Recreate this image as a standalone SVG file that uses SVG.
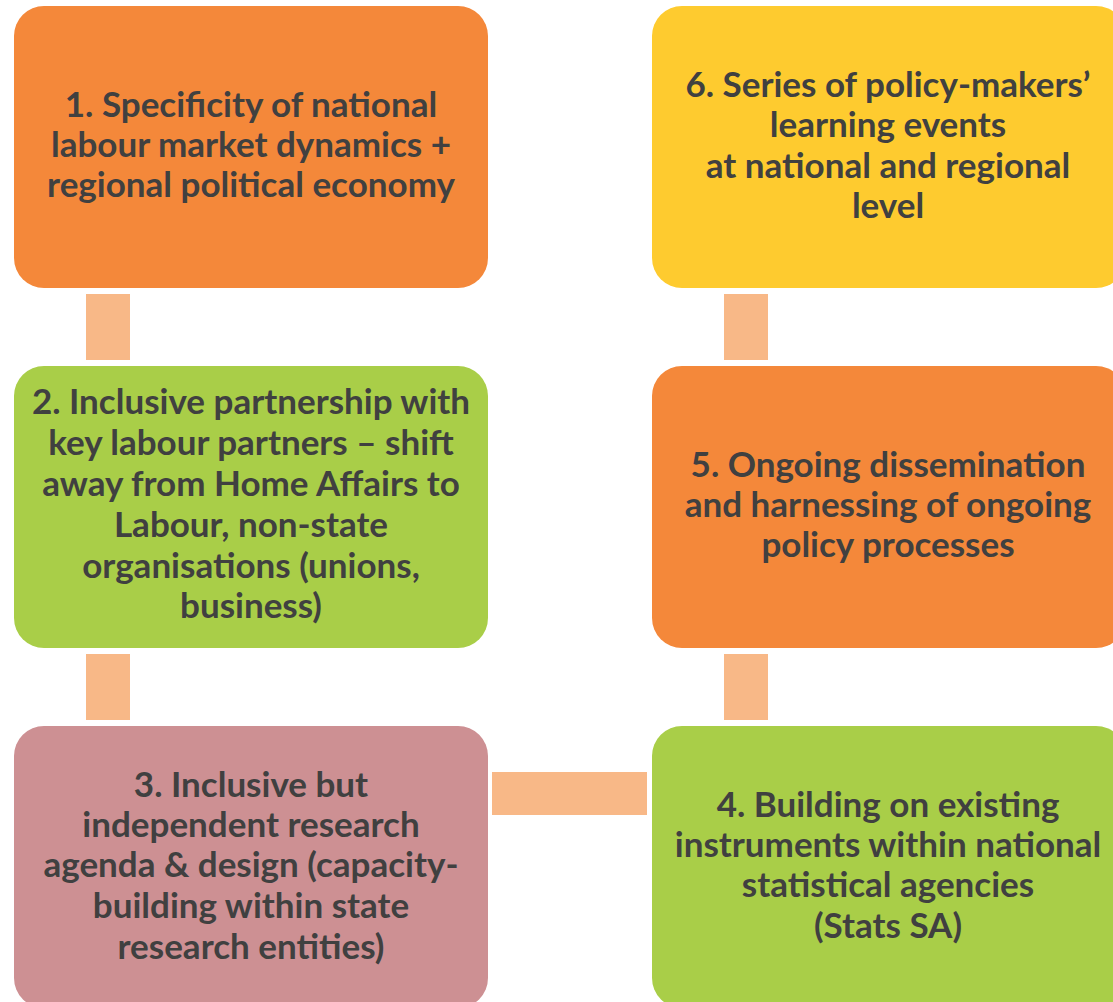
<svg xmlns="http://www.w3.org/2000/svg" width="1113" height="1002" viewBox="0 0 1113 1002">
<style>
.box{stroke:none}
.orange{fill:#F4883A}
.yellow{fill:#FECB2F}
.green{fill:#A9CE48}
.pink{fill:#CD9093}
.conn{fill:#F8B887}
text{font-family:Lato,"Liberation Sans",sans-serif;font-weight:bold;font-size:35px;fill:#404040;text-anchor:middle}
</style>
<rect width="1113" height="1002" fill="#FFFFFF"/>
<g id="connectors">
<rect class="conn" x="86" y="294" width="44" height="66"/>
<rect class="conn" x="86" y="654" width="44" height="66"/>
<rect class="conn" x="724" y="294" width="44" height="66"/>
<rect class="conn" x="724" y="654" width="44" height="66"/>
<rect class="conn" x="492" y="772" width="155" height="43"/>
</g>
<g id="node1">
<rect class="box orange" x="14" y="6" width="474" height="282" rx="30"/>
<text x="251" y="117">1. Specificity of national</text>
<text x="251" y="157">labour market dynamics +</text>
<text x="251" y="197">regional political economy</text>
</g>
<g id="node6">
<rect class="box yellow" x="652" y="6" width="474" height="282" rx="30"/>
<text x="888" y="97">6. Series of policy-makers’</text>
<text x="888" y="137">learning events</text>
<text x="888" y="178">at national and regional</text>
<text x="888" y="218">level</text>
</g>
<g id="node2">
<rect class="box green" x="14" y="366" width="474" height="282" rx="30"/>
<text x="251" y="414">2. Inclusive partnership with</text>
<text x="251" y="455">key labour partners – shift</text>
<text x="251" y="496">away from Home Affairs to</text>
<text x="251" y="537">Labour, non-state</text>
<text x="251" y="578">organisations (unions,</text>
<text x="251" y="618">business)</text>
</g>
<g id="node5">
<rect class="box orange" x="652" y="366" width="474" height="282" rx="30"/>
<text x="888" y="477">5. Ongoing dissemination</text>
<text x="888" y="517">and harnessing of ongoing</text>
<text x="888" y="557">policy processes</text>
</g>
<g id="node3">
<rect class="box pink" x="14" y="726" width="474" height="282" rx="30"/>
<text x="251" y="797">3. Inclusive but</text>
<text x="251" y="837">independent research</text>
<text x="251" y="877">agenda &amp; design (capacity-</text>
<text x="251" y="918">building within state</text>
<text x="251" y="959">research entities)</text>
</g>
<g id="node4">
<rect class="box green" x="652" y="726" width="474" height="282" rx="30"/>
<text x="888" y="817">4. Building on existing</text>
<text x="888" y="857">instruments within national</text>
<text x="888" y="897">statistical agencies</text>
<text x="888" y="938">(Stats SA)</text>
</g>
</svg>
